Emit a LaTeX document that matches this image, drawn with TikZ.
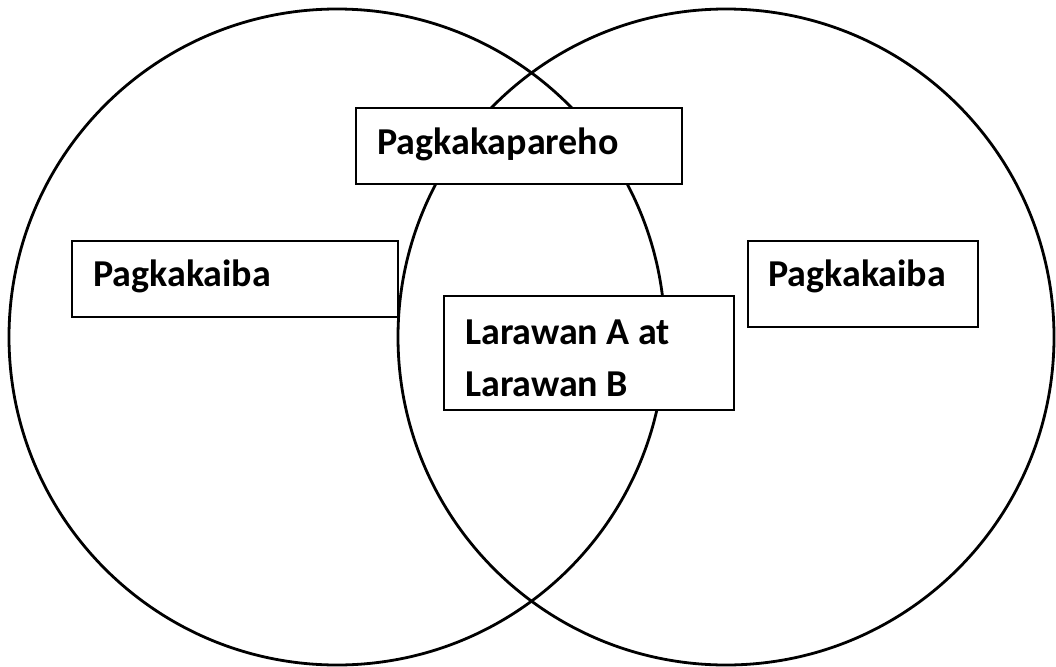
\documentclass[tikz,border=0pt]{standalone}
\usepackage{fontspec}
\setmainfont{Carlito}
\begin{document}
\begin{tikzpicture}[x=1pt,y=-1pt,
  ring/.style={line width=2.8pt, draw=black},
  box/.style={draw=black, line width=1.4pt, fill=white},
  lbl/.style={anchor=base west, inner sep=0pt, font=\fontsize{38}{44}\selectfont\bfseries}]
\useasboundingbox[fill=white] (0,0) rectangle (1056,666);
\draw[ring] (337,337) circle[radius=328];
\draw[ring] (726,337) circle[radius=328];
% boxes
\draw[box] (356,108) rectangle (682,184);
\draw[box] (72,241) rectangle (398,317);
\draw[box] (444,296) rectangle (734,410);
\draw[box] (748,241) rectangle (978,327);
\node[lbl] (same) at (377,154) {Pagkakapareho};
\node[lbl] (diffL) at (93,286) {Pagkakaiba};
\node[lbl] (ab1) at (465,344) {Larawan A at};
\node[lbl] (ab2) at (465,396) {Larawan B};
\node[lbl] (diffR) at (768,286) {Pagkakaiba};
\end{tikzpicture}
\end{document}
